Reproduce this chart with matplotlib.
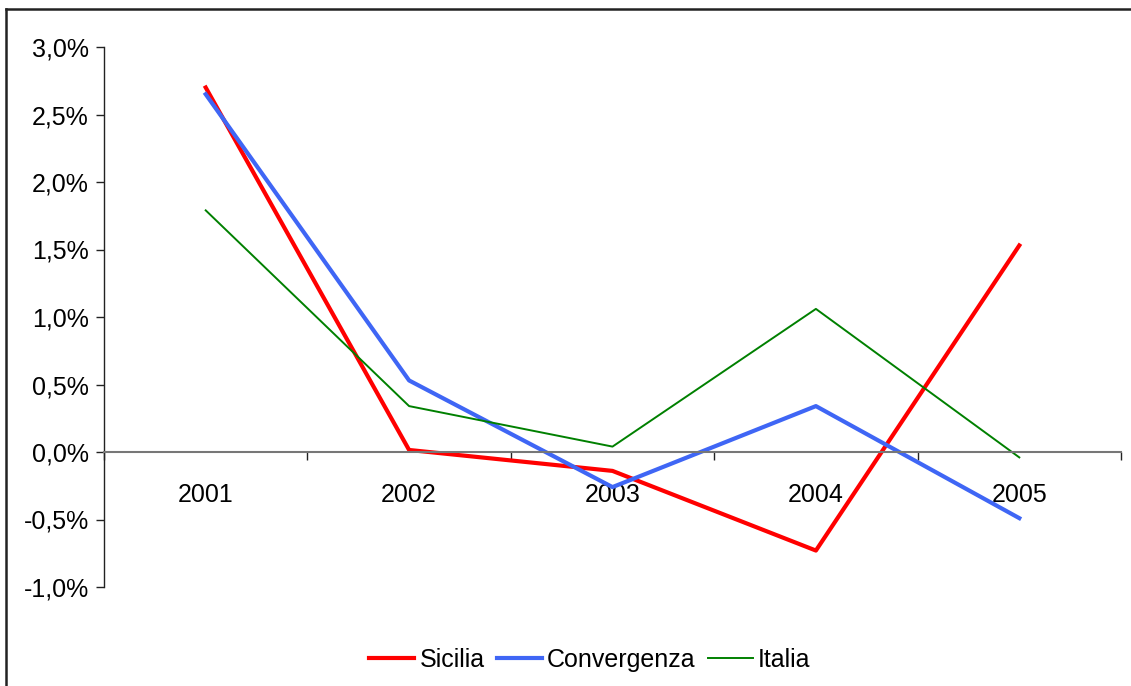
import matplotlib
matplotlib.use("Agg")
import matplotlib.pyplot as plt
from matplotlib.lines import Line2D
from matplotlib.ticker import FuncFormatter, FixedLocator

plt.rcParams['font.family'] = ['Liberation Sans', 'DejaVu Sans']

years = ['2001', '2002', '2003', '2004', '2005']
sicilia = [2.70, 0.015, -0.14, -0.73, 1.53]
convergenza = [2.65, 0.53, -0.26, 0.34, -0.49]
italia = [1.79, 0.34, 0.04, 1.06, -0.04]
yticks = [-1.0, -0.5, 0.0, 0.5, 1.0, 1.5, 2.0, 2.5, 3.0]

FS = 18

fig = plt.figure(figsize=(11.31, 6.86), dpi=100)
ax = fig.add_axes([104/1131, 1-587/686, (1121-104)/1131, (587-47)/686])

x = list(range(len(years)))
ax.plot(x, sicilia, color='#FF0000', lw=3.0, label='Sicilia')
ax.plot(x, convergenza, color='#3F66F5', lw=3.0, label='Convergenza')
ax.plot(x, italia, color='#008000', lw=1.4, label='Italia')

ax.set_xlim(-0.5, len(years) - 0.5)
ax.set_ylim(-1.0, 3.0)

for s in ['top', 'right']:
    ax.spines[s].set_visible(False)
ax.spines['bottom'].set_position(('data', 0))
ax.spines['bottom'].set_color('#777777')
ax.spines['bottom'].set_linewidth(1.5)
ax.spines['left'].set_color('#222222')
ax.spines['left'].set_linewidth(1.0)

ax.yaxis.set_major_locator(FixedLocator(yticks))
ax.yaxis.set_major_formatter(FuncFormatter(lambda v, p: f"{v:.1f}%".replace('.', ',')))
ax.tick_params(axis='y', direction='out', length=6, width=1, labelsize=FS, pad=5, color='#222222')

ax.xaxis.set_major_locator(FixedLocator([i - 0.5 for i in range(len(years) + 1)]))
ax.xaxis.set_minor_locator(FixedLocator(x))
ax.set_xticklabels([], minor=False)
ax.set_xticklabels(years, minor=True)
ax.tick_params(axis='x', which='major', direction='out', length=6, width=1, color='#222222')
ax.tick_params(axis='x', which='minor', length=0, labelsize=FS, pad=22)

fig.legend(loc='center', bbox_to_anchor=(590/1131, 1-660/686), ncol=3, frameon=False,
           fontsize=FS, handlelength=1.8, handletextpad=0.2, columnspacing=0.5)

fig.add_artist(Line2D([6/1131, 6/1131], [0, 1-9/686], color='#222222', lw=1.8, transform=fig.transFigure))
fig.add_artist(Line2D([6/1131, 1], [1-9/686, 1-9/686], color='#222222', lw=1.8, transform=fig.transFigure))

fig.savefig('out.png', dpi=100)
